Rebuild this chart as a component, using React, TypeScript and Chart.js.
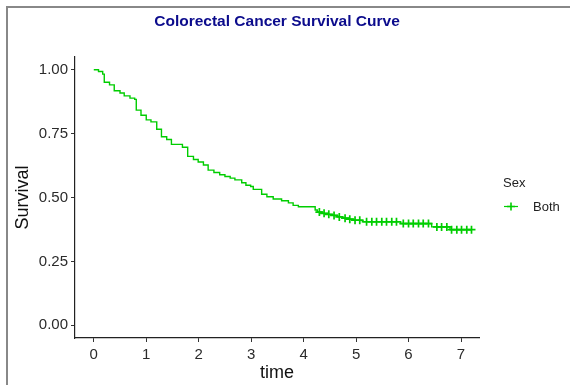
import React, { useEffect, useRef } from 'react';
import { Chart, registerables } from 'chart.js';

Chart.register(...registerables);

// ---- data ----
const eventTimes = [
  0, 0.09, 0.17, 0.2, 0.3, 0.39, 0.5, 0.58, 0.69, 0.78, 0.81, 0.9, 1.0, 1.09, 1.2, 1.29, 1.39, 1.48,
  1.69, 1.79, 1.9, 1.99, 2.09, 2.18, 2.29, 2.4, 2.5, 2.6, 2.69, 2.82, 2.9, 2.99, 3.04, 3.2, 3.3,
  3.42, 3.58, 3.71, 3.8, 3.9, 4.22, 4.26, 4.35, 4.45, 4.55, 4.65, 4.75, 4.85, 4.95, 5.12, 5.85,
  6.44, 6.79,
];
const survival = [
  1.0, 0.993, 0.983, 0.951, 0.941, 0.918, 0.909, 0.898, 0.889, 0.884, 0.842, 0.822, 0.804, 0.796,
  0.767, 0.738, 0.727, 0.708, 0.697, 0.661, 0.649, 0.639, 0.627, 0.607, 0.598, 0.589, 0.582, 0.576,
  0.569, 0.558, 0.548, 0.543, 0.532, 0.513, 0.503, 0.494, 0.487, 0.479, 0.469, 0.464, 0.451, 0.443,
  0.438, 0.434, 0.43, 0.424, 0.419, 0.415, 0.411, 0.405, 0.398, 0.385, 0.374,
];
const censorTimes = [
  4.3, 4.39, 4.48, 4.58, 4.68, 4.79, 4.88, 4.98, 5.07, 5.2, 5.3, 5.39, 5.49, 5.58, 5.68, 5.77, 5.9,
  6.0, 6.09, 6.19, 6.28, 6.38, 6.54, 6.63, 6.73, 6.82, 6.92, 7.01, 7.11, 7.2,
];
const endTime = 7.2;
const xTicks = [0, 1, 2, 3, 4, 5, 6, 7];
const yTicks = [0, 0.25, 0.5, 0.75, 1];
const titleText = 'Colorectal Cancer Survival Curve';
const xTitle = 'time';
const yTitle = 'Survival';
const legendTitle = 'Sex';
const seriesName = 'Both';

const GREEN = '#00CD00';
const FONT = "'Liberation Sans', Arial, sans-serif";

function survivalAt(t: number): number {
  let s = survival[0];
  for (let i = 0; i < eventTimes.length; i++) {
    if (eventTimes[i] <= t) s = survival[i];
  }
  return s;
}

function buildStepPoints() {
  const pts: { x: number; y: number }[] = [{ x: eventTimes[0], y: survival[0] }];
  for (let i = 1; i < eventTimes.length; i++) {
    pts.push({ x: eventTimes[i], y: survival[i - 1] });
    pts.push({ x: eventTimes[i], y: survival[i] });
  }
  pts.push({ x: endTime, y: survival[survival.length - 1] });
  return pts;
}

const decorPlugin = {
  id: 'decor',
  beforeDraw(chart: any) {
    const ctx = chart.ctx;
    ctx.save();
    ctx.fillStyle = '#ffffff';
    ctx.fillRect(0, 0, chart.width, chart.height);
    ctx.fillStyle = '#888888';
    ctx.fillRect(6, 6, chart.width, 2);
    ctx.fillRect(6, 6, 2, chart.height);
    ctx.restore();
  },
  afterDraw(chart: any) {
    const ctx = chart.ctx;
    const area = chart.chartArea;
    ctx.save();
    // title
    ctx.fillStyle = '#0b0b8c';
    ctx.font = `bold 15.5px ${FONT}`;
    ctx.textAlign = 'center';
    ctx.textBaseline = 'middle';
    ctx.fillText(titleText, (area.left + area.right) / 2, 22);
    // legend
    ctx.fillStyle = '#222222';
    ctx.font = `13px ${FONT}`;
    ctx.textAlign = 'left';
    ctx.fillText(legendTitle, 503, 183);
    ctx.fillText(seriesName, 533, 207);
    ctx.strokeStyle = GREEN;
    ctx.lineWidth = 1.2;
    ctx.beginPath();
    ctx.moveTo(504, 206.5);
    ctx.lineTo(518, 206.5);
    ctx.stroke();
    ctx.lineWidth = 1.6;
    ctx.beginPath();
    ctx.moveTo(511, 202.5);
    ctx.lineTo(511, 210.5);
    ctx.moveTo(507, 206.5);
    ctx.lineTo(515, 206.5);
    ctx.stroke();
    ctx.restore();
  },
};

export default function App() {
  const ref = useRef<HTMLCanvasElement | null>(null);

  useEffect(() => {
    if (!ref.current) return;
    const tickFont = { family: FONT, size: 15 };
    const titleFont = { family: FONT, size: 18 };
    const chart = new Chart(ref.current, {
      type: 'scatter',
      data: {
        datasets: [
          {
            label: seriesName,
            data: buildStepPoints(),
            showLine: true,
            borderColor: GREEN,
            borderWidth: 1.4,
            pointRadius: 0,
            tension: 0,
          },
          {
            label: seriesName + ' censored',
            data: censorTimes.map((t) => ({ x: t, y: survivalAt(t) })),
            showLine: false,
            pointStyle: 'cross',
            pointRadius: 4,
            borderColor: GREEN,
            backgroundColor: GREEN,
            pointBorderWidth: 1.7,
            borderWidth: 1.7,
          },
        ],
      },
      options: {
        animation: false,
        responsive: false,
        events: [],
        layout: { padding: { top: 57, right: 91, left: 0, bottom: 0 } },
        plugins: {
          legend: { display: false },
          title: { display: false },
          tooltip: { enabled: false },
        },
        scales: {
          x: {
            type: 'linear',
            min: -0.358,
            max: 7.343,
            afterBuildTicks: (s: any) => {
              s.ticks = xTicks.map((v) => ({ value: v }));
            },
            afterFit: (s: any) => {
              s.height = 47;
            },
            ticks: {
              font: tickFont,
              color: '#2b2b2b',
              padding: 4,
              autoSkip: false,
              maxRotation: 0,
              callback: (v: any) => String(v),
            },
            grid: { drawOnChartArea: false, tickLength: 4, color: '#333333', lineWidth: 1 },
            border: { display: true, color: '#222222', width: 1.2 },
            title: {
              display: true,
              text: xTitle,
              font: titleFont,
              color: '#111111',
              padding: { top: 0, bottom: 1.5 },
            },
          },
          y: {
            type: 'linear',
            min: -0.05,
            max: 1.05,
            afterBuildTicks: (s: any) => {
              s.ticks = yTicks.map((v) => ({ value: v }));
            },
            afterFit: (s: any) => {
              s.width = 75;
            },
            ticks: {
              font: tickFont,
              color: '#2b2b2b',
              padding: 3,
              autoSkip: false,
              callback: (v: any) => Number(v).toFixed(2),
            },
            grid: { drawOnChartArea: false, tickLength: 4, color: '#333333', lineWidth: 1 },
            border: { display: true, color: '#222222', width: 1.2 },
            title: {
              display: true,
              text: yTitle,
              font: titleFont,
              color: '#111111',
              padding: { top: 12, bottom: 0 },
            },
          },
        },
      } as any,
      plugins: [decorPlugin],
    });
    return () => chart.destroy();
  }, []);

  return (
    <div style={{ position: 'fixed', left: 0, top: 0, width: 570, height: 385 }}>
      <canvas ref={ref} width={570} height={385} style={{ display: 'block', width: 570, height: 385 }} />
    </div>
  );
}
